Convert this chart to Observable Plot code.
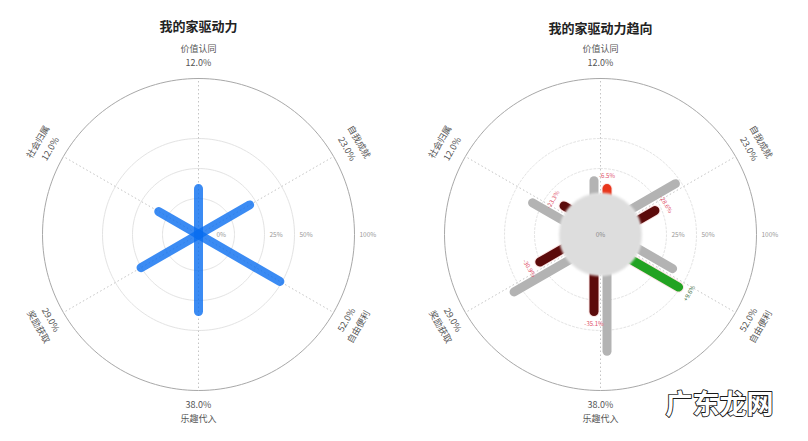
<!DOCTYPE html>
<html><head><meta charset="utf-8">
<script src="https://cdn.jsdelivr.net/npm/d3@7"></script>
<script src="https://cdn.jsdelivr.net/npm/@observablehq/plot@0.6"></script>
<style>
body{margin:0;background:#fff;}
#wrap{display:flex;width:808px;height:441px;overflow:hidden;}
</style></head><body><div id="wrap"></div>
<script>
// ---- data ----
const categories = ["价值认同","自我成就","自由便利","乐趣代入","奖励获取","社会归属"];
const angles = [0, 60, 120, 180, 240, 300];
const current = [12.0, 23.0, 52.0, 38.0, 29.0, 12.0];
const previous = [18.5, 49, 40, 71, 60, 36];
const change = [-6.5, -28.6, 9.6, -35.1, -30.9, -23.3];
const ringTicks = [0, 25, 50, 100];
const titles = ["我的家驱动力", "我的家驱动力趋向"];
const watermark = "广东龙网";

// ---- layout helpers ----
const K = 1.2;          // px per radial unit
const OFFSET = 30;      // radial units where 0% sits
const W = 404, H = 441;
const rho = v => OFFSET + v;
const u = p => p / K;   // px -> units
const rad = a => a * Math.PI / 180;
function polar(r, angle, perpPx = 0) {
  const t = rad(angle), p = u(perpPx);
  return [r * Math.sin(t) + p * Math.cos(t), r * Math.cos(t) - p * Math.sin(t)];
}
const rot = a => (a > 90 && a < 270) ? a - 180 : a;
const CAP = u(4.5);
const font = '"Noto Sans CJK SC", "Noto Sans", sans-serif';

const rows = categories.map((name, i) => ({
  name, angle: angles[i], cur: current[i], prev: previous[i], chg: change[i]
}));
const ringPts = ringTicks.flatMap(v => d3.range(0, 361, 2).map(a => ({v, a})));

function frame(dashedRings, showInner) {
  const rp = ringPts.filter(d => showInner || d.v > 0);
  return [
    Plot.line(rp.filter(d => d.v < 100), {
      x: d => polar(rho(d.v), d.a)[0], y: d => polar(rho(d.v), d.a)[1], z: "v",
      stroke: "#e3e3e3", strokeWidth: 1, strokeDasharray: dashedRings ? "2,2" : null
    }),
    Plot.line(rp.filter(d => d.v === 100), {
      x: d => polar(rho(d.v), d.a)[0], y: d => polar(rho(d.v), d.a)[1],
      stroke: "#a8a8a8", strokeWidth: 1
    }),
    Plot.link(rows, {
      x1: () => 0, y1: () => 0,
      x2: d => polar(rho(100), d.angle)[0], y2: d => polar(rho(100), d.angle)[1],
      stroke: "#c4c4c4", strokeWidth: 1, strokeDasharray: "1.5,2.5"
    })
  ];
}
function axisLabels() {
  return [
    Plot.text(rows, {
      x: d => polar(u(171), d.angle)[0], y: d => polar(u(171), d.angle)[1],
      text: d => d.cur.toFixed(1) + "%", rotate: d => rot(d.angle),
      fontSize: 9, fill: "#555"
    }),
    Plot.text(rows, {
      x: d => polar(u(185), d.angle)[0], y: d => polar(u(185), d.angle)[1],
      text: "name", rotate: d => rot(d.angle),
      fontSize: 9, fill: "#555"
    })
  ];
}
function tickLabels(centerZero) {
  return [
    Plot.text(ringTicks.filter(v => v > 0), {
      x: v => rho(v), y: () => 0, text: v => v + "%",
      textAnchor: "start", dx: 5, fontSize: 6.5, fill: "#9a9a9a"
    }),
    Plot.text(ringTicks.filter(v => v === 0), centerZero
      ? {x: () => 0, y: () => 0, text: v => v + "%", fontSize: 6.5, fill: "#8a8a8a"}
      : {x: v => rho(v), y: () => 0, text: v => v + "%", textAnchor: "start", dx: -18, fontSize: 6.5, fill: "#9a9a9a"})
  ];
}
function scales(cx, cy) {
  return {
    width: W, height: H, margin: 0,
    x: {domain: [-u(cx), u(W - cx)], axis: null},
    y: {domain: [-u(H - cy), u(cy)], axis: null},
    style: {fontFamily: font, background: "#fff", overflow: "visible"}
  };
}

// ---- left chart ----
const left = Plot.plot({
  ...scales(198, 234),
  marks: [
    ...frame(false, true),
    Plot.link(rows, {
      x1: () => 0, y1: () => 0,
      x2: d => polar(rho(d.cur) - CAP, d.angle)[0], y2: d => polar(rho(d.cur) - CAP, d.angle)[1],
      stroke: "#0a6ef0", strokeOpacity: 0.8, strokeWidth: 9, strokeLinecap: "round"
    }),
    ...tickLabels(false),
    ...axisLabels(),
    Plot.text([titles[0]], {x: () => 0, frameAnchor: "top", dy: 21, text: d => d,
      fontSize: 13, fontWeight: "bold", fill: "#222"})
  ]
});

// ---- right chart ----
const barColor = c => c > 0 ? "#22a322" : (c > -20 ? "#e8361c" : "#5c0b0b");
const labColor = c => c > 0 ? "#3d6e3d" : "#e0506a";
const right = Plot.plot({
  ...scales(196, 234),
  marks: [
    ...frame(true, false),
    Plot.link(rows, {
      x1: d => polar(0, d.angle, -6.5)[0], y1: d => polar(0, d.angle, -6.5)[1],
      x2: d => polar(rho(d.prev) - CAP, d.angle, -6.5)[0], y2: d => polar(rho(d.prev) - CAP, d.angle, -6.5)[1],
      stroke: "#b3b3b3", strokeWidth: 9, strokeLinecap: "round"
    }),
    Plot.link(rows, {
      x1: d => polar(0, d.angle, 6.5)[0], y1: d => polar(0, d.angle, 6.5)[1],
      x2: d => polar(rho(d.cur) - CAP, d.angle, 6.5)[0], y2: d => polar(rho(d.cur) - CAP, d.angle, 6.5)[1],
      stroke: "#fbe3e3", strokeWidth: 11, strokeLinecap: "round"
    }),
    Plot.link(rows, {
      x1: d => polar(0, d.angle, 6.5)[0], y1: d => polar(0, d.angle, 6.5)[1],
      x2: d => polar(rho(d.cur) - CAP, d.angle, 6.5)[0], y2: d => polar(rho(d.cur) - CAP, d.angle, 6.5)[1],
      stroke: d => barColor(d.chg), strokeWidth: 9, strokeLinecap: "round"
    }),
    Plot.dot([0], {x: () => 0, y: () => 0, r: 41, fill: "#dddddd", stroke: "#e6e6e6", strokeWidth: 1.5}),
    Plot.text(rows, {
      x: d => polar(rho(d.cur) + u(8), d.angle, 6.5)[0], y: d => polar(rho(d.cur) + u(8), d.angle, 6.5)[1],
      text: d => (d.chg > 0 ? "+" : "") + d.chg.toFixed(1) + "%", rotate: d => rot(d.angle),
      fontSize: 6, fill: d => labColor(d.chg)
    }),
    ...tickLabels(true),
    ...axisLabels(),
    Plot.text([titles[1]], {x: () => 0, frameAnchor: "top", dy: 23, text: d => d,
      fontSize: 13, fontWeight: "bold", fill: "#222"}),
    Plot.text([watermark], {frameAnchor: "bottom-right", dx: -35, dy: -28, text: d => d,
      textAnchor: "end", fontSize: 27, fontWeight: "bold", fill: "#ffffff", stroke: "#1a1a1a",
      strokeWidth: 1.8, paintOrder: "stroke", strokeLinejoin: "round"})
  ]
});

// soft edge on the center disc
const sr = d3.select(right);
sr.insert("defs", ":first-child").append("filter").attr("id", "discBlur")
  .attr("x", "-20%").attr("y", "-20%").attr("width", "140%").attr("height", "140%")
  .append("feGaussianBlur").attr("stdDeviation", 0.9);
sr.select('g[aria-label="dot"]').attr("filter", "url(#discBlur)");

document.getElementById("wrap").append(left, right);
</script>
</body></html>
